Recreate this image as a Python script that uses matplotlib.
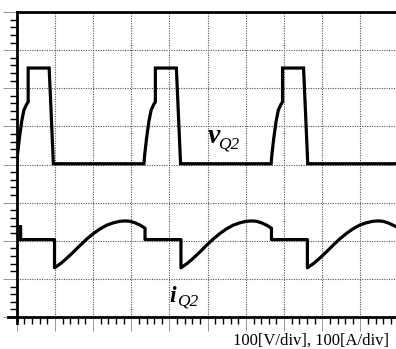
import numpy as np
import matplotlib.pyplot as plt

# time axis in divisions, amplitudes in divisions
vq2_t = [0.00, 0.02, 0.07, 0.13, 0.19, 0.26, 0.30, 0.30, 0.85, 0.96,
         3.33, 3.35, 3.40, 3.46, 3.52, 3.59, 3.63, 3.63, 4.18, 4.29,
         6.66, 6.68, 6.73, 6.79, 6.85, 6.92, 6.96, 6.96, 7.51, 7.62, 9.93]
vq2_v = [4.02, 4.25, 4.69, 5.13, 5.43, 5.58, 5.64, 6.53, 6.53, 4.02,
         4.02, 4.25, 4.69, 5.13, 5.43, 5.58, 5.64, 6.53, 6.53, 4.02,
         4.02, 4.25, 4.69, 5.13, 5.43, 5.58, 5.64, 6.53, 6.53, 4.02, 4.02]

iq2_t = [0.00, 0.10, 0.10, 0.10, 0.99,
         0.99, 1.16, 1.31, 1.49, 1.66, 1.84, 2.01, 2.18, 2.36, 2.53, 2.70, 2.85, 2.97, 3.10, 3.23, 3.36,
         3.36, 4.30,
         4.30, 4.47, 4.62, 4.80, 4.97, 5.15, 5.32, 5.49, 5.67, 5.84, 6.01, 6.16, 6.28, 6.41, 6.54, 6.67,
         6.67, 7.61,
         7.61, 7.78, 7.93, 8.11, 8.28, 8.46, 8.63, 8.80, 8.98, 9.15, 9.32, 9.47, 9.59, 9.72, 9.85, 9.93]
iq2_a = [2.03, 2.03, 2.37, 2.03, 2.03,
         1.29, 1.41, 1.54, 1.71, 1.88, 2.05, 2.19, 2.31, 2.41, 2.47, 2.51, 2.52, 2.51, 2.47, 2.41, 2.33,
         2.03, 2.03,
         1.29, 1.41, 1.54, 1.71, 1.88, 2.05, 2.19, 2.31, 2.41, 2.47, 2.51, 2.52, 2.51, 2.47, 2.41, 2.33,
         2.03, 2.03,
         1.29, 1.41, 1.54, 1.71, 1.88, 2.05, 2.19, 2.31, 2.41, 2.47, 2.51, 2.52, 2.51, 2.47, 2.41, 2.37]

scale_text = '100[V/div], 100[A/div]'

plt.rcParams['font.family'] = ['Liberation Serif', 'DejaVu Serif']

fig = plt.figure(figsize=(3.96, 3.49), dpi=100)
ax = fig.add_axes([16.7 / 396, 1 - 317 / 349, 1 - 16.7 / 396, 305 / 349])

ax.plot(vq2_t, vq2_v, color='black', lw=2.3, solid_joinstyle='miter', zorder=3)
ax.plot(iq2_t, iq2_a, color='black', lw=2.3, solid_joinstyle='round', zorder=3)

ax.set_xlim(0, 9.93)
ax.set_ylim(0, 8)

ax.set_xticks(np.arange(0, 10))
ax.set_yticks(np.arange(0, 9))
ax.set_xticks(np.arange(0, 9.93, 0.2), minor=True)
ax.set_yticks(np.arange(0, 8.01, 0.2), minor=True)
ax.set_xticklabels([])
ax.set_yticklabels([])
ax.tick_params(which='minor', direction='out', length=5, width=1, color='black')
ax.tick_params(which='major', direction='out', length=10, width=0.7, color='#999999')
ax.grid(True, which='major', color='#555555', linestyle=(0, (1, 1.2)), lw=0.8)

for side in ['left', 'bottom', 'right']:
    ax.spines[side].set_visible(False)
ax.spines['top'].set_linewidth(2)

# axes lines cross a little past the corner
ax.plot([0, 0], [-0.021, 1], transform=ax.transAxes, color='black', lw=2, clip_on=False, zorder=4)
ax.plot([-0.024, 1], [0, 0], transform=ax.transAxes, color='black', lw=2, clip_on=False, zorder=4)

ax.text(5.0, 4.57, 'v', fontsize=20, fontweight='bold', fontstyle='italic', va='baseline')
ax.text(5.27, 4.43, 'Q2', fontsize=12.5, fontstyle='italic', va='baseline')
ax.text(4.01, 0.40, 'i', fontsize=17, fontweight='bold', fontstyle='italic', va='baseline')
ax.text(4.20, 0.29, 'Q2', fontsize=12.5, fontstyle='italic', va='baseline')

fig.text(233 / 396, 1 - 345 / 349, scale_text, fontsize=12, va='baseline')

plt.savefig('out.png', dpi=100)
